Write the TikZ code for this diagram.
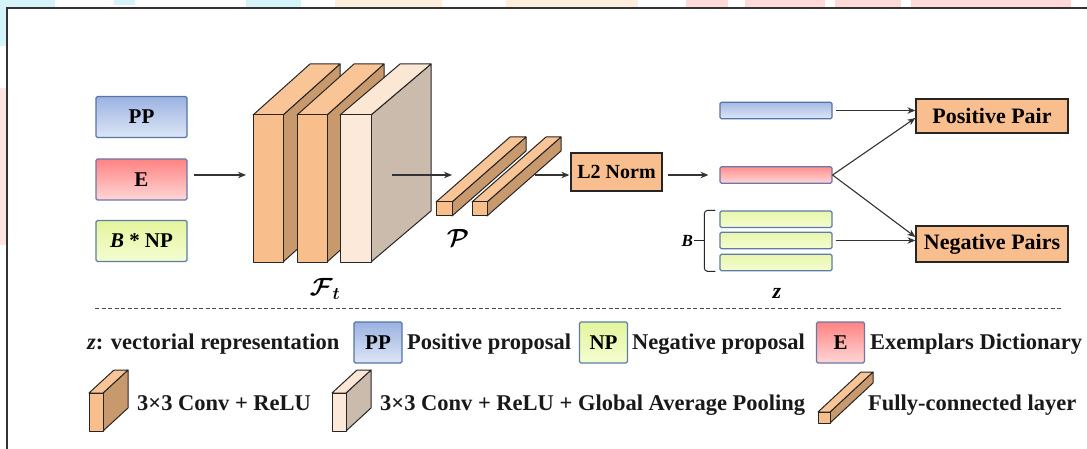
\documentclass[tikz,border=0pt]{standalone}
\usepackage{fontspec}
\usepackage{bm}
\setmainfont{Liberation Serif}
\usetikzlibrary{arrows.meta}
\definecolor{cvfront}{HTML}{F8BE8C}
\definecolor{cvside}{HTML}{C9996E}
\definecolor{cvtop}{HTML}{F9C596}
\definecolor{gpfront}{HTML}{FDE9D9}
\definecolor{gpside}{HTML}{CBBBAD}
\definecolor{gptop}{HTML}{FCE6D4}
\definecolor{pairfill}{HTML}{F9BE8D}
\definecolor{ppTop}{HTML}{9BB2E1}
\definecolor{ppBot}{HTML}{DDE6F6}
\definecolor{ppBorder}{HTML}{5574AA}
\definecolor{eTop}{HTML}{FF8383}
\definecolor{eBot}{HTML}{FFD6D6}
\definecolor{eBorder}{HTML}{6A78A6}
\definecolor{npTop}{HTML}{E3F59C}
\definecolor{npBot}{HTML}{F5FDD2}
\definecolor{npBorder}{HTML}{5E7CA6}
\definecolor{wmcyan}{HTML}{D4F4FA}
\definecolor{wmpeach}{HTML}{FFEEDD}
\definecolor{wmpink}{HTML}{FFDAD6}
\newcommand\mycuboid[9]{%
  \filldraw[cub,fill=#8] ({#1+#3},#2) -- ++(#5,-#6) -- ++(0,#4) -- ++(-#5,#6) -- cycle;
  \filldraw[cub,fill=#9] (#1,#2) -- ++(#5,-#6) -- ++(#3,0) -- ++(-#5,#6) -- cycle;
  \filldraw[cub,fill=#7] (#1,#2) rectangle ++(#3,#4);
}
\tikzset{
  cub/.style={draw=black!85, line width=1pt, line join=round},
  arr/.style={draw=black!80, line width=1.1pt, -{Stealth[length=8pt,width=6.5pt]}},
  txt/.style={font=\bfseries\fontsize{22}{26}\selectfont, inner sep=0pt},
  lt/.style={font=\bfseries\fontsize{22.5}{26}\selectfont, inner sep=0pt, text=black!90},
  inbox/.style={draw, line width=1.2pt, rounded corners=1.5pt, minimum width=91pt, minimum height=41pt, inner sep=0pt, font=\bfseries\fontsize{21}{24}\selectfont},
  lbox/.style={draw, line width=1.2pt, rounded corners=1.5pt, minimum width=48pt, minimum height=41pt, inner sep=0pt, font=\bfseries\fontsize{21}{24}\selectfont},
  ppcol/.style={draw=ppBorder, top color=ppTop, bottom color=ppBot},
  ecol/.style={draw=eBorder, top color=eTop, bottom color=eBot},
  npcol/.style={draw=npBorder, top color=npTop, bottom color=npBot},
  zbar/.style={draw, line width=1.1pt, rounded corners=1.5pt, minimum width=112pt, minimum height=16.5pt, inner sep=0pt},
  pair/.style={draw=black!85, fill=pairfill, line width=1.3pt, minimum width=152pt, inner sep=0pt, font=\bfseries\fontsize{22}{26}\selectfont},
  brc/.style={draw=black!85, line width=1pt, rounded corners=3pt},
  mlab/.style={inner sep=0pt, font=\fontsize{24}{26}\selectfont},
}
\begin{document}
\begin{tikzpicture}[x=1pt,y=-1pt]
\useasboundingbox (0,0) rectangle (1087,449);
\fill[white] (0,0) rectangle (1087,449);
% faint background marks
\fill[wmcyan] (0,0) rectangle (55,7);
\fill[wmcyan] (0,0) rectangle (6,46);
\fill[wmcyan] (114,0) rectangle (135,5);
\fill[wmcyan] (246,0) rectangle (301,7);
\fill[wmpeach] (335,0) rectangle (442,7);
\fill[wmpeach] (506,0) rectangle (638,7);
\fill[wmpink] (686,0) rectangle (728,7);
\fill[wmpink] (745,0) rectangle (825,7);
\fill[wmpink] (835,0) rectangle (901,7);
\fill[wmpink] (911,0) rectangle (1071,7);
\fill[wmpink!70] (0,88) rectangle (6,245);
% frame
\draw[black!80, line width=1.3pt] (7,449) -- (7,8) -- (1087,8);

% input boxes
\node[inbox, ppcol] (pp) at (141.5,117) {PP};
\node[inbox, ecol] (e) at (141.5,179.5) {E};
\node[inbox, npcol] (np) at (141.5,241) {\textit{B} * NP};

% conv blocks
\mycuboid{253}{115}{30}{147}{57}{51}{cvfront}{cvside}{cvtop}
\mycuboid{297}{115}{30}{147}{57}{51}{cvfront}{cvside}{cvtop}
\mycuboid{340}{115}{31}{147}{60}{51}{gpfront}{gpside}{gptop}
\node[mlab] (ft) at (325,289) {$\bm{\mathcal{F}}_{\bm{t}}$};

% fc bars
\mycuboid{436}{202}{16}{14}{74}{65}{cvfront}{cvside}{cvtop}
\mycuboid{472}{202}{15}{14}{74}{65}{cvfront}{cvside}{cvtop}
\node[mlab] (pl) at (458,238) {$\bm{\mathcal{P}}$};

\coordinate (f1in) at (246,175);
\coordinate (f3out) at (392,175);
\coordinate (fcin) at (452,175);
\coordinate (fcout) at (535,175);

% L2 norm
\node[pair, minimum width=91pt, minimum height=38pt, font=\bfseries\fontsize{20}{24}\selectfont] (l2) at (616.5,172) {L2 Norm};

% z bars
\node[zbar, draw=ppBorder, top color=ppTop!90, bottom color=ppBot] (zb) at (776,110.5) {};
\node[zbar, draw=eBorder, top color=eTop!90, bottom color=eBot] (zp) at (776,175) {};
\node[zbar, draw=npBorder, top color=npTop!85, bottom color=npBot] (g1) at (776,219.25) {};
\node[zbar, draw=npBorder, top color=npTop!85, bottom color=npBot] (g2) at (776,240.5) {};
\node[zbar, draw=npBorder, top color=npTop!85, bottom color=npBot] (g3) at (776,262.5) {};
\node[txt] (zl) at (777,293) {\textit{z}};

% brace
\draw[brc] ([xshift=-4pt]g1.north west) -- ++(-11,0) -- ([xshift=-15pt]g3.south west) -- ++(11,0);
\draw[brc] ([xshift=-15pt]g2.west) -- ++(-10,0) node[left, inner sep=1pt, font=\bfseries\fontsize{17}{20}\selectfont] (bl) {\textit{B}};

% pairs
\node[pair, minimum height=34pt] (pos) at (992,116) {Positive Pair};
\node[pair, minimum height=36pt] (neg) at (992,244) {Negative Pairs};

% connectors
\path (e.east |- f1in) coordinate (ea);
\draw[arr] ([xshift=6pt]ea) -- (f1in);
\draw[arr] (f3out) -- (fcin);
\path (l2.west |- zp.west) coordinate (l2w);
\path (l2.east |- zp.west) coordinate (l2e);
\draw[arr] (fcout) -- ([xshift=-1pt]l2w);
\draw[arr] ([xshift=5pt]l2e) -- ([xshift=-11pt]zp.west);
\draw[arr] ([xshift=3pt]zb.east) -- (pos.west |- zb.east);
\draw[arr] (zp.east) -- ([yshift=-2pt]pos.west);
\draw[arr] (zp.east) -- ([yshift=7pt]neg.west);
\draw[arr] ([xshift=3pt]g2.east) -- (neg.west |- g2.east);

% separator
\draw[black!70, line width=0.9pt, dash pattern=on 4pt off 2.5pt] (95,308) -- (1063,308);

% legend row 1
\node[lt, anchor=base west] (t1) at (87,349) {\textit{z}: vectorial representation};
\node[lbox, ppcol] (lpp) at (378,342.5) {PP};
\node[lt, anchor=base west] (t2) at (407,349) {Positive proposal};
\node[lbox, npcol] (lnp) at (603.5,342.5) {NP};
\node[lt, anchor=base west] (t3) at (632,349) {Negative proposal};
\node[lbox, ecol] (le) at (840.5,342.5) {E};
\node[lt, anchor=base west] (t4) at (870,349) {Exemplars Dictionary};

% legend row 2
\mycuboid{89}{393}{14}{38}{25}{23}{cvfront}{cvside}{cvtop}
\node[lt, anchor=base west] (t5) at (137,410) {3×3 Conv + ReLU};
\mycuboid{332}{393}{14}{38}{25}{23}{gpfront}{gpside}{gptop}
\node[lt, anchor=base west] (t6) at (380,410) {3×3 Conv + ReLU + Global Average Pooling};
\mycuboid{818}{412}{12}{11}{43}{40}{cvfront}{cvside}{cvtop}
\node[lt, anchor=base west] (t7) at (868,410) {Fully-connected layer};
\end{tikzpicture}
\end{document}
